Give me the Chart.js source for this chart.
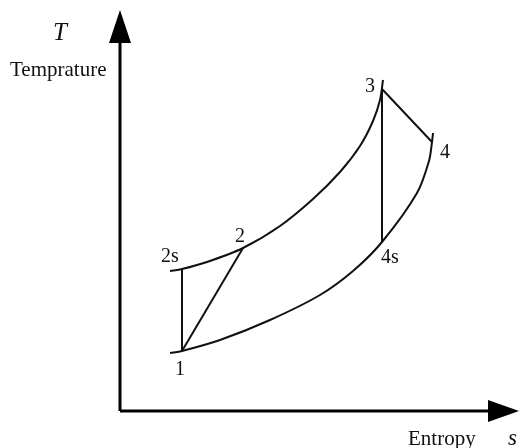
<!DOCTYPE html>
<html>
<head>
<meta charset="utf-8">
<script src="https://cdn.jsdelivr.net/npm/chart.js@4.4.1/dist/chart.umd.min.js"></script>
<style>
  html, body { margin: 0; padding: 0; background: #fff; }
  #wrap { width: 523px; height: 448px; position: relative; }
</style>
</head>
<body>
<div id="wrap"><canvas id="c" width="523" height="448"></canvas></div>
<script>
// ---- Data (entropy s, temperature T in arbitrary diagram units) ----
const highIsobarS = [50, 62, 87, 123, 160, 193, 220, 240, 253, 260, 263];
const highIsobarT = [140, 142, 149, 163, 185, 212, 239, 265, 290, 311, 331];
const lowIsobarS  = [50, 62, 100, 150, 200, 233, 262, 297, 309, 312, 313];
const lowIsobarT  = [58, 60, 71, 91, 116, 140, 169, 218, 250, 269, 278];

const stateNames = ['1', '2s', '2', '3', '4s', '4'];
const stateS     = [62, 62, 123, 262, 262, 312];
const stateT     = [60, 142, 163, 322, 169, 269];

// processes drawn as straight lines between states
const processes = [['2s', '1'], ['1', '2'], ['3', '4s'], ['3', '4']];

const axisMaxS = 400, axisMaxT = 401;
const axisLabelY = 'Temprature', axisSymbolY = 'T';
const axisLabelX = 'Entropy', axisSymbolX = 's';

// ---- build datasets ----
const pts = (xs, ys) => xs.map((x, i) => ({x, y: ys[i]}));
const st = name => { const i = stateNames.indexOf(name); return {x: stateS[i], y: stateT[i]}; };

const lineStyle = { borderColor: '#111', borderWidth: 2, pointRadius: 0, fill: false, showLine: true, clip: false };

const datasets = [
  Object.assign({ data: pts(highIsobarS, highIsobarT), tension: 0.3 }, lineStyle),
  Object.assign({ data: pts(lowIsobarS, lowIsobarT), tension: 0.3 }, lineStyle),
];
processes.forEach(([a, b]) => datasets.push(Object.assign({ data: [st(a), st(b)], tension: 0 }, lineStyle)));

// axes (lines) from origin
datasets.push({ data: [{x: 0, y: 0}, {x: 0, y: 370}], borderColor: '#000', borderWidth: 3, pointRadius: 0, showLine: true, clip: false });
datasets.push({ data: [{x: 0, y: 0}, {x: 370, y: 0}], borderColor: '#000', borderWidth: 3, pointRadius: 0, showLine: true, clip: false });

// ---- label + arrowhead plugin ----
const labelOffsets = { // pixel offsets of label (left, baseline) from state point
  '1': [-7, 24], '2s': [-21, -7], '2': [-8, -6], '3': [-17, 3], '4s': [-1, 21], '4': [8, 16]
};
const textPlugin = {
  id: 'texts',
  afterDatasetsDraw(chart) {
    const ctx = chart.ctx, xs = chart.scales.x, ys = chart.scales.y;
    const x0 = xs.getPixelForValue(0), y0 = ys.getPixelForValue(0);
    const yTop = ys.getPixelForValue(axisMaxT), xEnd = xs.getPixelForValue(axisMaxS - 1);
    ctx.save();
    // arrowheads
    ctx.fillStyle = '#000';
    ctx.beginPath();
    ctx.moveTo(x0, yTop);
    ctx.lineTo(x0 - 11, yTop + 33);
    ctx.lineTo(x0 + 11, yTop + 33);
    ctx.closePath();
    ctx.fill();
    ctx.beginPath();
    ctx.moveTo(xEnd, y0);
    ctx.lineTo(xEnd - 31, y0 - 11);
    ctx.lineTo(xEnd - 31, y0 + 11);
    ctx.closePath();
    ctx.fill();

    ctx.fillStyle = '#111';
    ctx.textAlign = 'left';
    ctx.textBaseline = 'alphabetic';
    ctx.font = '20px "Liberation Serif", "DejaVu Serif", serif';
    stateNames.forEach((n, i) => {
      const px = xs.getPixelForValue(stateS[i]), py = ys.getPixelForValue(stateT[i]);
      const o = labelOffsets[n];
      ctx.fillText(n, px + o[0], py + o[1]);
    });
    ctx.font = '21px "Liberation Serif", serif';
    ctx.fillText(axisLabelY, x0 - 110, yTop + 66);
    ctx.fillText(axisLabelX, xEnd - 111, y0 + 34);
    ctx.font = 'italic 25px "Liberation Serif", serif';
    ctx.fillText(axisSymbolY, x0 - 67, yTop + 30);
    ctx.font = 'italic 23px "Liberation Serif", serif';
    ctx.fillText(axisSymbolX, xEnd - 11, y0 + 34);
    ctx.restore();
  }
};

new Chart(document.getElementById('c'), {
  type: 'scatter',
  data: { datasets },
  options: {
    responsive: false,
    animation: false,
    layout: { padding: { left: 120, top: 10, right: 3, bottom: 37 } },
    scales: {
      x: { type: 'linear', min: 0, max: axisMaxS, display: false },
      y: { type: 'linear', min: 0, max: axisMaxT, display: false }
    },
    plugins: { legend: { display: false }, tooltip: { enabled: false } }
  },
  plugins: [textPlugin]
});
</script>
</body>
</html>
